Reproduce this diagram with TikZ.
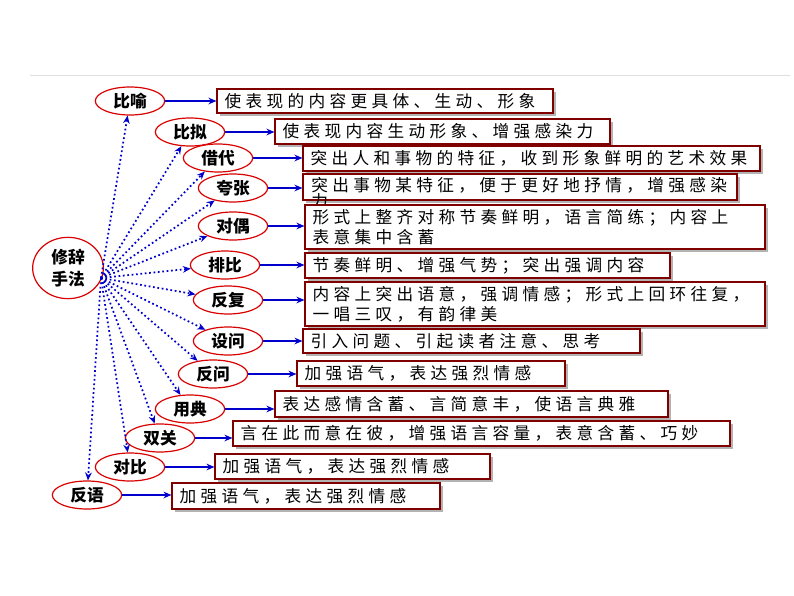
\documentclass[tikz,border=0pt]{standalone}
\usepackage{fontspec}
\setmainfont{Noto Sans CJK SC}
\newfontfamily\boxfont[LetterSpace=26]{Noto Sans CJK SC}
\usetikzlibrary{shapes.geometric,shadows,fit,arrows.meta}
\tikzset{
 x=0.75pt,y=-0.75pt,
 el/.style={ellipse,draw=red!85!black,line width=0.9pt,fill=white,font=\bfseries\fontsize{12.5}{13}\selectfont,inner sep=0pt,minimum width=52pt,minimum height=21pt},
 bx/.style={draw=red!50!black,line width=0.8pt,fill=white,inner sep=0pt,drop shadow={shadow xshift=2pt,shadow yshift=-2pt,opacity=0.6,fill=gray}},
 tx/.style={anchor=west,font=\boxfont\fontsize{12.5}{15}\selectfont,align=left,inner sep=0pt},
 arr/.style={draw=blue!80!black,line width=1.1pt,-{Stealth[length=6pt,width=5pt]}},
 dot/.style={draw=blue!80!black,line width=1.3pt,dotted,-{Stealth[length=6pt,width=5pt]}},
}
\newcommand\mkbox[6]{%
 \node[bx,fit={(#2,#3)(#4,#5)}] (#1) {};
 \node[tx] (#1t) at ([xshift=6pt]#1.west) {#6};}
\begin{document}
\begin{tikzpicture}
\useasboundingbox (0,0) rectangle (794,596);
\draw[gray!25,line width=0.6pt] (30,75) -- (790,75);
\node[el,minimum width=53pt,minimum height=46pt,font=\bfseries\fontsize{12.5}{17}\selectfont,align=center] (c) at (68,268) {修辞\\手法};
\coordinate (s) at (101,278);
\node[el] (e1) at (130,101) {比喻};
\node[el] (e2) at (190,132) {比拟};
\node[el] (e3) at (218,158) {借代};
\node[el] (e4) at (233,188) {夸张};
\node[el] (e5) at (233,226) {对偶};
\node[el] (e6) at (225,265) {排比};
\node[el] (e7) at (228,300) {反复};
\node[el] (e8) at (228,341) {设问};
\node[el] (e9) at (213,374) {反问};
\node[el] (e10) at (190,409) {用典};
\node[el] (e11) at (160,438) {双关};
\node[el] (e12) at (130,467) {对比};
\node[el] (e13) at (87,495) {反语};
\mkbox{b1}{217}{89}{553}{113}{使表现的内容更具体、生动、形象}
\mkbox{b2}{275}{119}{610}{144}{使表现内容生动形象、增强感染力}
\mkbox{b3}{303}{146}{760}{171}{突出人和事物的特征，收到形象鲜明的艺术效果}
\node[bx,fit={(303,174)(737,200)}] (b4) {};
\node[tx,anchor=north west,font=\boxfont\fontsize{12.5}{12}\selectfont] (b4t) at (311,177) {突出事物某特征，便于更好地抒情，增强感染\\力};
\mkbox{b5}{305}{205}{765}{249}{形式上整齐对称节奏鲜明，语言简练；内容上\\表意集中含蓄}
\mkbox{b6}{305}{253}{670}{278}{节奏鲜明、增强气势；突出强调内容}
\mkbox{b7}{305}{282}{765}{326}{内容上突出语意，强调情感；形式上回环往复，\\一唱三叹，有韵律美}
\mkbox{b8}{303}{329}{640}{353}{引入问题、引起读者注意、思考}
\mkbox{b9}{297}{361}{565}{386}{加强语气，表达强烈情感}
\mkbox{b10}{275}{391}{668}{417}{表达感情含蓄、言简意丰，使语言典雅}
\mkbox{b11}{233}{421}{730}{446}{言在此而意在彼，增强语言容量，表意含蓄、巧妙}
\mkbox{b12}{215}{454}{490}{479}{加强语气，表达强烈情感}
\mkbox{b13}{172}{483}{440}{509}{加强语气，表达强烈情感}
\foreach \i in {1,...,13} {
 \draw[arr] (e\i.east) -- (b\i.west |- e\i.east);
 \draw[dot] (s) -- (e\i);
}
\end{tikzpicture}
\end{document}
